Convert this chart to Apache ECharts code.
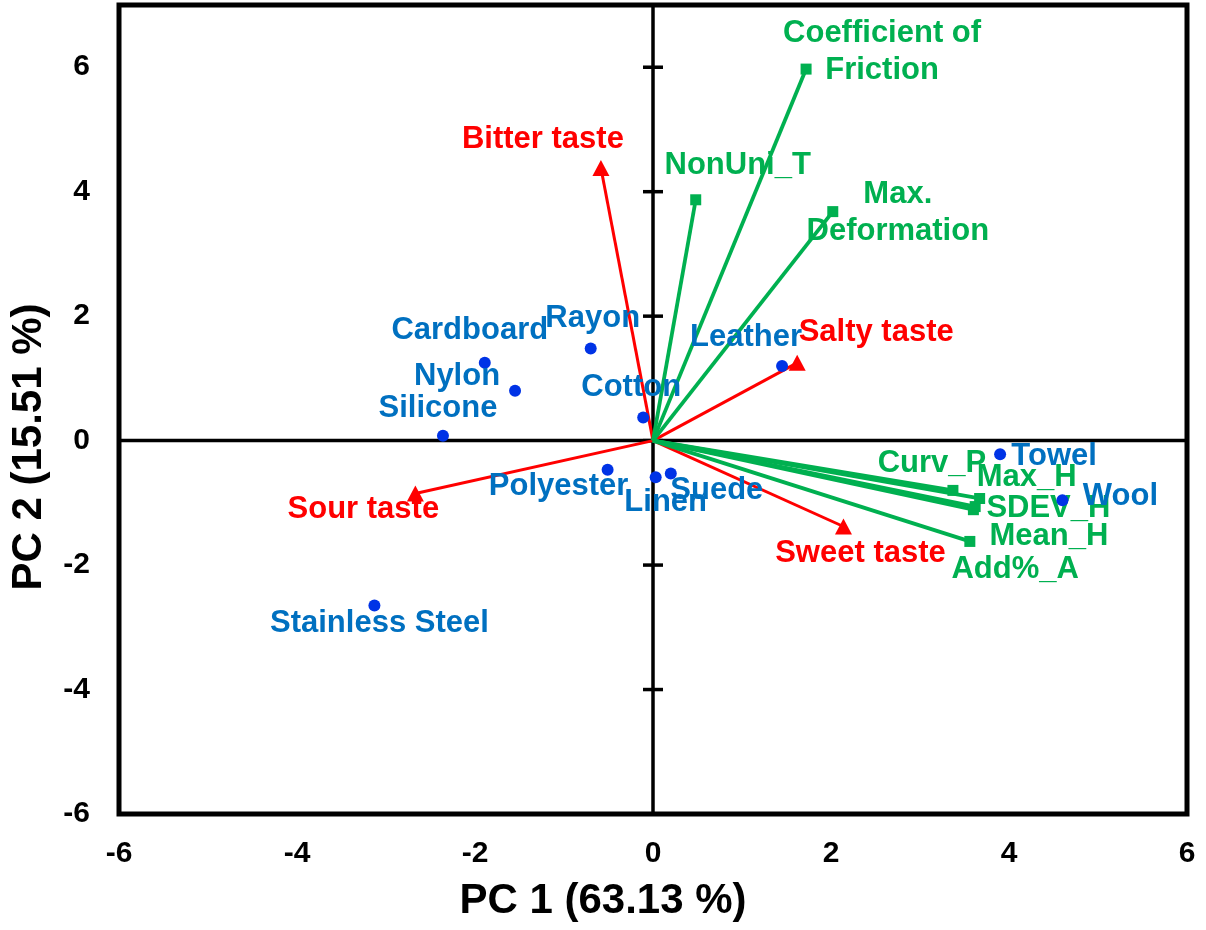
<!DOCTYPE html>
<html>
<head>
<meta charset="utf-8">
<title>PCA biplot</title>
<script src="https://cdn.jsdelivr.net/npm/echarts@6/dist/echarts.min.js"></script>
<style>
  html, body { margin: 0; padding: 0; background: #fff; }
  #chart { width: 1206px; height: 930px; }
</style>
</head>
<body>
<div id="chart"></div>
<script>
// ---- Scores: materials ----
const samples = ['Cardboard', 'Rayon', 'Nylon', 'Silicone', 'Cotton', 'Leather',
                 'Polyester', 'Linen', 'Suede', 'Towel', 'Wool', 'Stainless Steel'];
const sampleX = [-1.89, -0.70, -1.55, -2.36, -0.11, 1.45, -0.51, 0.03, 0.20, 3.90, 4.60, -3.13];
const sampleY = [1.25, 1.48, 0.80, 0.08, 0.37, 1.20, -0.47, -0.59, -0.53, -0.22, -0.96, -2.65];

// ---- Loadings: taste attributes ----
const tastes = ['Bitter taste', 'Salty taste', 'Sour taste', 'Sweet taste'];
const tasteX = [-0.585, 1.62, -2.67, 2.14];
const tasteY = [4.38, 1.25, -0.85, -1.38];

// ---- Loadings: texture measures ----
const textures = ['Coefficient of\nFriction', 'NonUni_T', 'Max.\nDeformation', 'Curv_P',
                  'Max_H', 'SDEV_H', 'Add%_A', 'Mean_H'];
const textureX = [1.72, 0.48, 2.02, 3.37, 3.67, 3.60, 3.62, 3.56];
const textureY = [5.97, 3.87, 3.68, -0.80, -0.93, -1.11, -1.06, -1.62];

// ---- Axes ----
const xTicks = [-6, -4, -2, 0, 2, 4, 6];
const yTicks = [-6, -4, -2, 0, 2, 4, 6];
const xTitle = 'PC 1 (63.13 %)';
const yTitle = 'PC 2 (15.51 %)';

// Hand-placed label positions, in pixels relative to each marker
const labelNudge = {
  'Cardboard': [-15, -32], 'Rayon': [2, -30], 'Nylon': [-58, -14], 'Silicone': [-5, -27],
  'Cotton': [-12, -30], 'Leather': [-36, -28], 'Polyester': [-49, 17], 'Linen': [10, 25],
  'Suede': [46, 17], 'Towel': [54, 2], 'Wool': [58, -4], 'Stainless Steel': [5, 18],
  'Bitter taste': [-58, -29], 'Salty taste': [79, -30], 'Sour taste': [-52, 16], 'Sweet taste': [17, 27],
  'Coefficient of\nFriction': [76, -17], 'NonUni_T': [42, -34], 'Max.\nDeformation': [65, 1],
  'Curv_P': [-21, -27], 'Max_H': [47, -21], 'SDEV_H': [75, -1], 'Add%_A': [40, 63], 'Mean_H': [79, -5]
};

const FONT = '"Liberation Sans", Arial, Helvetica, sans-serif';
const RED = '#FF0000', GREEN = '#00B050', BLUE_TXT = '#0070C0', BLUE_DOT = '#0033E6';
const X_MIN = -6, X_MAX = 6, Y_MIN = -6, Y_MAX = 7;

const labelBase = {
  show: true, position: 'inside', fontFamily: FONT, fontWeight: 'bold',
  fontSize: 31, align: 'center', verticalAlign: 'middle', lineHeight: 37
};

function vectorSeries(name, x, y, color, symbol, size, width) {
  return {
    type: 'line',
    xAxisIndex: 0, yAxisIndex: 0,
    z: 3,
    silent: true,
    symbol: symbol,
    symbolSize: size,
    showSymbol: true,
    lineStyle: { color: color, width: width, opacity: 1 },
    itemStyle: { color: color, opacity: 1 },
    data: [
      { value: [0, 0], symbol: 'none', label: { show: false } },
      { value: [x, y], name: name,
        label: Object.assign({}, labelBase, { color: color, formatter: name, offset: labelNudge[name] }) }
    ]
  };
}

const series = [];

// Centre cross lines through the origin
series.push({
  type: 'custom',
  z: 1,
  silent: true,
  data: [[0, 0]],
  renderItem: function (params, api) {
    const bottom = api.coord([0, Y_MIN]), top = api.coord([0, Y_MAX]);
    const left = api.coord([X_MIN, 0]), right = api.coord([X_MAX, 0]);
    const style = { stroke: '#000', lineWidth: 3.5 };
    return {
      type: 'group',
      children: [
        { type: 'line', shape: { x1: bottom[0], y1: bottom[1], x2: top[0], y2: top[1] }, style: style },
        { type: 'line', shape: { x1: left[0], y1: left[1], x2: right[0], y2: right[1] }, style: style }
      ]
    };
  }
});

// Cross ticks on the vertical centre line
series.push({
  type: 'custom',
  z: 1,
  silent: true,
  data: yTicks.map(v => [0, v]),
  renderItem: function (params, api) {
    const p = api.coord([api.value(0), api.value(1)]);
    return {
      type: 'line',
      shape: { x1: p[0] - 10, y1: p[1], x2: p[0] + 10, y2: p[1] },
      style: { stroke: '#000', lineWidth: 3.5 }
    };
  }
});

tastes.forEach((n, i) => series.push(vectorSeries(n, tasteX[i], tasteY[i], RED, 'triangle', [17, 16], 3)));
textures.forEach((n, i) => series.push(vectorSeries(n, textureX[i], textureY[i], GREEN, 'rect', 11, 3.8)));

series.push({
  type: 'scatter',
  z: 4,
  silent: true,
  symbol: 'circle',
  symbolSize: 12,
  itemStyle: { color: BLUE_DOT, opacity: 1 },
  label: Object.assign({}, labelBase, { color: BLUE_TXT, formatter: '{b}' }),
  data: samples.map((n, i) => ({ name: n, value: [sampleX[i], sampleY[i]], label: { offset: labelNudge[n] } }))
});

const axisLabelStyle = { fontFamily: FONT, fontWeight: 'bold', fontSize: 30, color: '#000' };

const chart = echarts.init(document.getElementById('chart'), null, { renderer: 'canvas' });
chart.setOption({
  animation: false,
  backgroundColor: '#fff',
  grid: {
    left: 119, right: 19, top: 5, bottom: 116,
    show: true, borderColor: '#000', borderWidth: 5, backgroundColor: 'transparent'
  },
  xAxis: {
    type: 'value', min: X_MIN, max: X_MAX, interval: 2,
    axisLine: { show: false }, axisTick: { show: false }, splitLine: { show: false },
    axisLabel: Object.assign({}, axisLabelStyle, {
      margin: 25,
      formatter: v => (xTicks.indexOf(v) >= 0 ? String(v) : '')
    })
  },
  yAxis: {
    type: 'value', min: Y_MIN, max: Y_MAX, interval: 2,
    axisLine: { show: false }, axisTick: { show: false }, splitLine: { show: false },
    axisLabel: Object.assign({}, axisLabelStyle, {
      margin: 29,
      formatter: v => (yTicks.indexOf(v) >= 0 ? String(v) : '')
    })
  },
  graphic: [
    {
      type: 'text', left: 'center', top: 880,
      style: { text: xTitle, font: 'bold 42px ' + FONT, fill: '#000' }
    },
    {
      type: 'text', x: 29, y: 447, rotation: Math.PI / 2,
      style: { text: yTitle, font: 'bold 42px ' + FONT, fill: '#000', align: 'center', verticalAlign: 'middle' }
    }
  ],
  series: series
});
</script>
</body>
</html>
